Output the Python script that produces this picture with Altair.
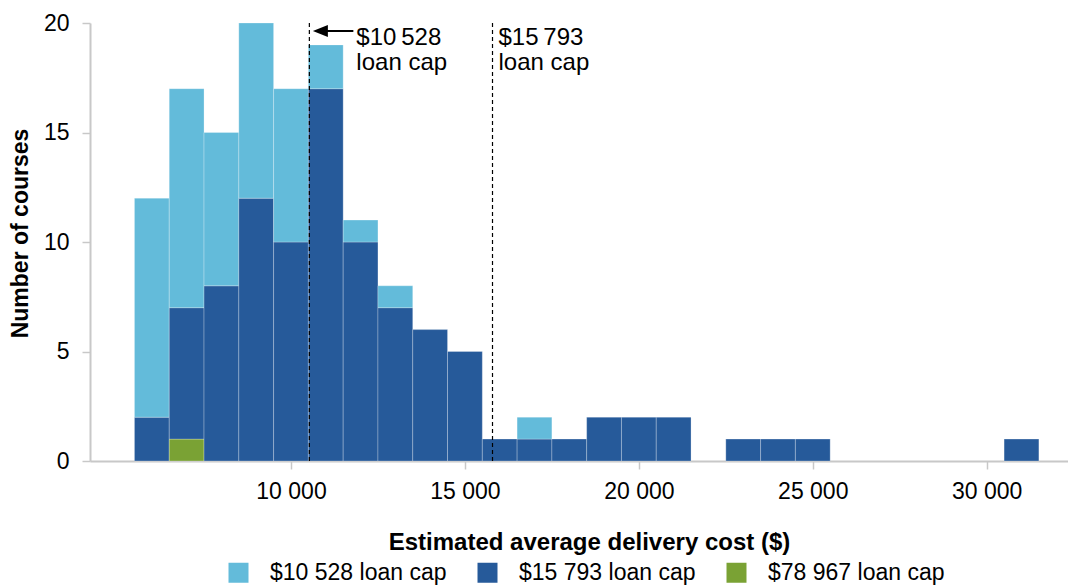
import altair as alt
import pandas as pd

# ---- data ----
bin_centers = [6000, 7000, 8000, 9000, 10000, 11000, 12000, 13000, 14000, 15000,
               16000, 17000, 18000, 19000, 20000, 21000, 22000, 23000, 24000, 25000,
               26000, 27000, 28000, 29000, 30000, 31000]
bin_width = 1000
cap_10528 = [10, 10, 7, 8, 7, 2, 1, 1, 0, 0, 0, 1, 0, 0, 0, 0, 0, 0, 0, 0, 0, 0, 0, 0, 0, 0]
cap_15793 = [2, 6, 8, 12, 10, 17, 10, 7, 6, 5, 1, 1, 1, 2, 2, 2, 0, 1, 1, 1, 0, 0, 0, 0, 0, 1]
cap_78967 = [0, 1, 0, 0, 0, 0, 0, 0, 0, 0, 0, 0, 0, 0, 0, 0, 0, 0, 0, 0, 0, 0, 0, 0, 0, 0]

series_labels = ["$10 528 loan cap", "$15 793 loan cap", "$78 967 loan cap"]
series_colors = ["#63BBDA", "#265A9A", "#7AA234"]

cap_values = [10528, 15793]
cap_texts = ["$10\u2009528\nloan cap", "$15\u2009793\nloan cap"]
cap_text_dx = [47, 6]

x_ticks = [10000, 15000, 20000, 25000, 30000]
x_tick_labels = ["10 000", "15 000", "20 000", "25 000", "30 000"]
y_ticks = [0, 5, 10, 15, 20]

FONT = "Liberation Sans"
AXIS_GREY = "#c8c8c8"

# ---- stacked table (green bottom, dark middle, light top) ----
rows = []
stack_order = [(series_labels[2], cap_78967), (series_labels[1], cap_15793), (series_labels[0], cap_10528)]
for i, c in enumerate(bin_centers):
    base = 0
    for name, arr in stack_order:
        v = arr[i]
        if v > 0:
            rows.append({"start": c - bin_width / 2, "end": c + bin_width / 2,
                         "y0": base, "y1": base + v, "series": name})
            base += v
bars_df = pd.DataFrame(rows)

label_expr = " : ".join(
    [f"datum.value == {v} ? '{t}'" for v, t in zip(x_ticks, x_tick_labels)]) + " : ''"

x_scale = alt.Scale(domain=[4222, 32337], nice=False, zero=False)
y_scale = alt.Scale(domain=[0, 20], nice=False)

bars = alt.Chart(bars_df).mark_bar(stroke="white", strokeOpacity=0.25, strokeWidth=1).encode(
    x=alt.X("start:Q", scale=x_scale,
            axis=alt.Axis(values=x_ticks, labelExpr=label_expr,
                          title="Estimated average delivery cost ($)",
                          grid=False, labelFontSize=23, labelColor="black",
                          labelPadding=11, tickSize=8, tickWidth=1.5,
                          tickColor=AXIS_GREY, domainColor=AXIS_GREY, domainWidth=2,
                          titleFontSize=24, titleFontWeight="bold", titleColor="black",
                          titlePadding=27, titleX=499, titleAnchor="middle",
                          labelFlush=False)),
    x2="end:Q",
    y=alt.Y("y1:Q", scale=y_scale,
            axis=alt.Axis(values=y_ticks, title="Number of courses", grid=False,
                          labelFontSize=23, labelColor="black", labelPadding=13,
                          tickSize=8, tickWidth=1.5, tickColor=AXIS_GREY,
                          domainColor=AXIS_GREY, domainWidth=2,
                          titleFontSize=23, titleFontWeight="bold", titleColor="black",
                          titlePadding=11, titleY=210)),
    y2="y0:Q",
    color=alt.Color("series:N",
                    scale=alt.Scale(domain=series_labels, range=series_colors),
                    legend=alt.Legend(orient="none", legendX=137, legendY=538,
                                      direction="horizontal", title=None,
                                      symbolType="square", symbolSize=400,
                                      symbolStrokeWidth=0, labelFontSize=23,
                                      labelColor="black", labelOffset=20, labelLimit=0,
                                      columnPadding=29, padding=0)),
)

caps_df = pd.DataFrame({"cap": cap_values, "label": cap_texts, "dx": cap_text_dx})

cap_lines = alt.Chart(caps_df).mark_rule(color="black", strokeWidth=1.2, strokeDash=[4, 3]).encode(
    x=alt.X("cap:Q", scale=x_scale),
    y=alt.datum(0, scale=y_scale),
    y2=alt.datum(20),
)

layers = [bars, cap_lines]
for v, t, d in zip(cap_values, cap_texts, cap_text_dx):
    one = pd.DataFrame({"cap": [v], "label": [t]})
    layers.append(alt.Chart(one).mark_text(align="left", baseline="alphabetic", dx=d, dy=22,
                                           lineBreak="\n", lineHeight=25, fontSize=24,
                                           color="black", font=FONT).encode(
        x=alt.X("cap:Q", scale=x_scale), y=alt.datum(20, scale=y_scale), text="label:N"))

arrow_df = pd.DataFrame({"cap": cap_values[:1]})
arrow_line = alt.Chart(arrow_df).mark_rule(color="black", strokeWidth=2, xOffset=12,
                                           x2Offset=44, yOffset=8).encode(
    x=alt.X("cap:Q", scale=x_scale), x2="cap:Q", y=alt.datum(20, scale=y_scale))
arrow_head = alt.Chart(arrow_df).mark_point(shape="M-1,0L1,-0.8L1,0.8Z", filled=True,
                                            size=225, color="black", opacity=1,
                                            xOffset=11, yOffset=8).encode(
    x=alt.X("cap:Q", scale=x_scale), y=alt.datum(20, scale=y_scale))
layers += [arrow_line, arrow_head]

chart = alt.layer(*layers).properties(
    width=978, height=438,
    autosize=alt.AutoSizeParams(type="none"),
    padding={"left": 82, "top": 15, "right": 0, "bottom": 124},
).configure(font=FONT).configure_view(stroke=None)

chart.save("out.html", embed_options={"renderer": "svg", "actions": False})
